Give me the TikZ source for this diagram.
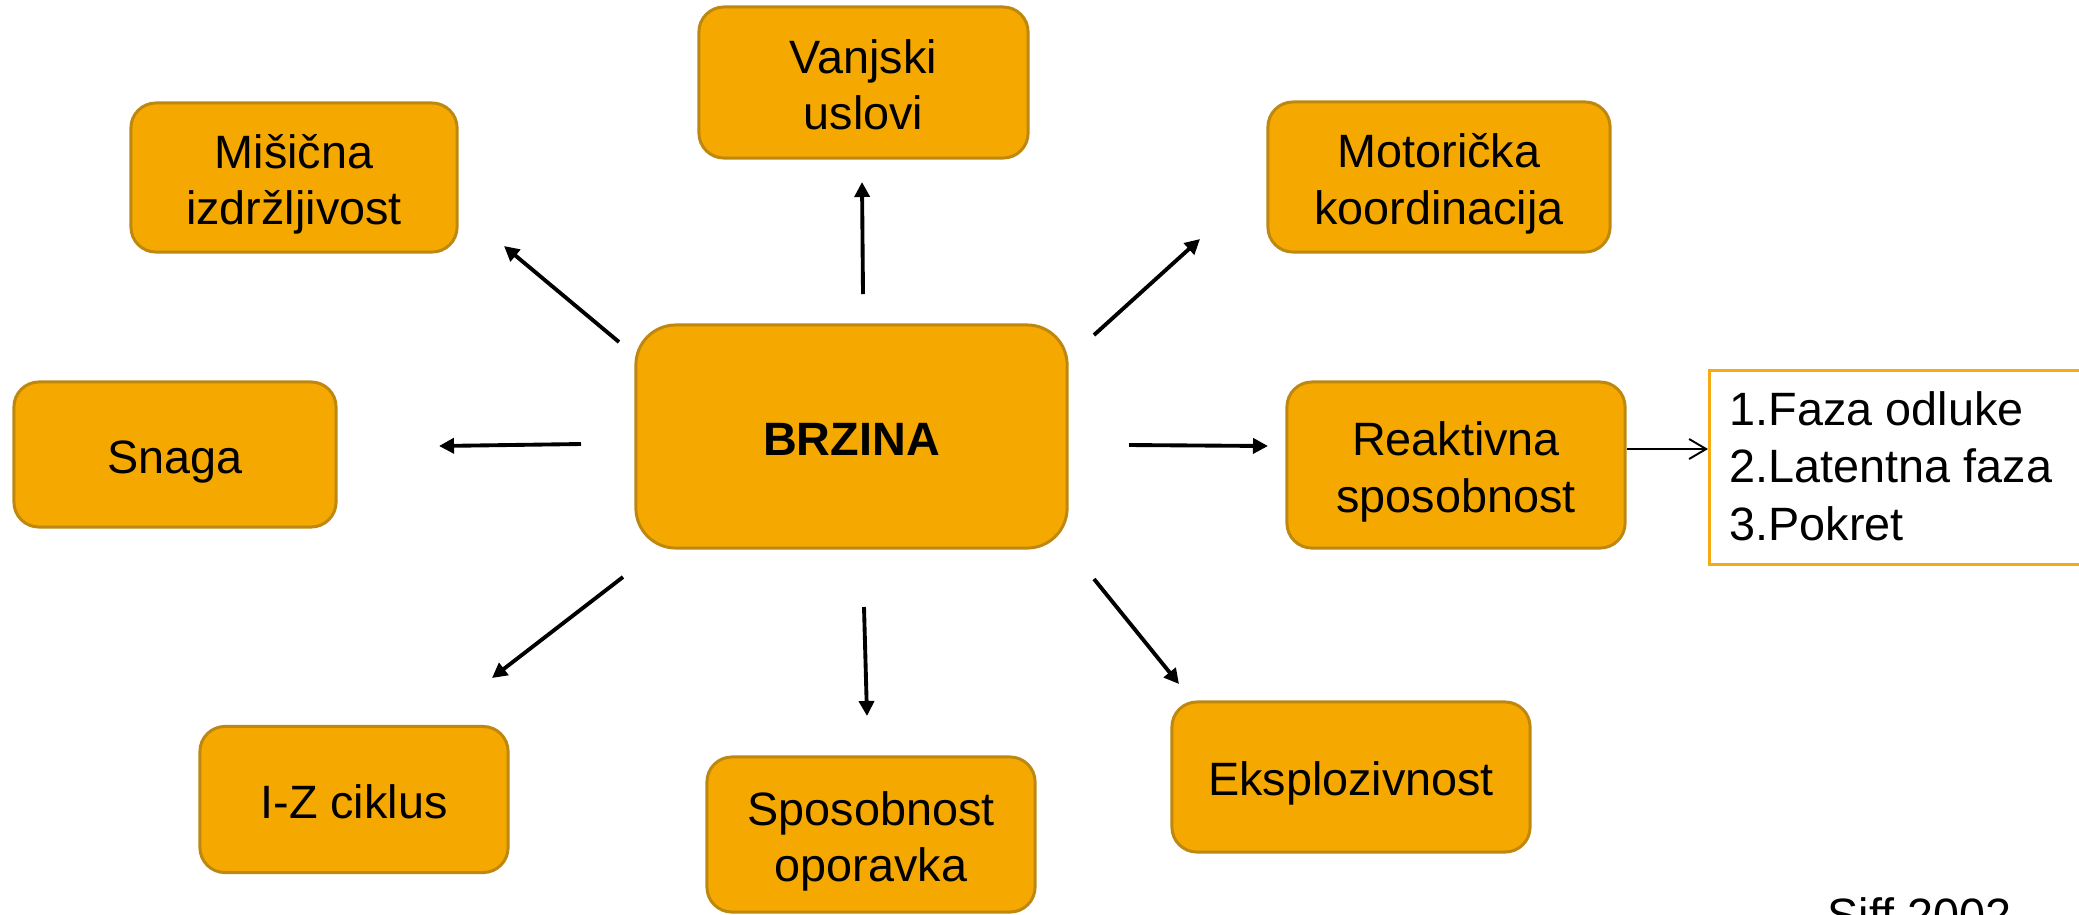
\documentclass[tikz,border=0pt]{standalone}
\usepackage{fontspec}
\setmainfont{Liberation Sans}
\usetikzlibrary{arrows.meta}
\definecolor{boxfill}{RGB}{244,168,0}
\definecolor{boxline}{RGB}{190,136,16}
\definecolor{listline}{RGB}{246,170,20}
\newcommand{\twol}[2]{\begin{tabular}[t]{@{}c@{}}#1\\#2\end{tabular}}
\tikzset{
  obox/.style={draw=boxline, line width=0.85pt, fill=boxfill, rounded corners=0.25cm,
    inner sep=0pt, font=\fontsize{13.3}{16.2}\selectfont},
  oneline/.style={text height=0.37cm, text depth=0pt},
  twoline/.style={text height=0pt, text depth=0.19cm},
  arr/.style={line width=1.1pt, -{Triangle[length=0.15cm,width=0.15cm]}},
  thinarr/.style={line width=0.55pt, -{Straight Barb[length=0.17cm,width=0.2cm]}},
  listtxt/.style={anchor=base west, inner sep=0pt, font=\fontsize{13.3}{15.6}\selectfont}
}
\begin{document}
\begin{tikzpicture}[x=0.01cm,y=-0.01cm]
\useasboundingbox (0,0) rectangle (2079,914);
% boxes
\node[obox, twoline, minimum width=3.29cm, minimum height=1.51cm] (vanj) at (863.5,82.5) {\twol{Vanjski}{uslovi}};
\node[obox, twoline, minimum width=3.26cm, minimum height=1.49cm] (mis) at (294,177.5) {\twol{Mišična}{izdržljivost}};
\node[obox, twoline, minimum width=3.42cm, minimum height=1.50cm] (mot) at (1439,177) {\twol{Motorička}{koordinacija}};
\node[obox, oneline, minimum width=3.22cm, minimum height=1.45cm] (snaga) at (175,454.5) {Snaga};
\node[obox, oneline, minimum width=4.31cm, minimum height=2.23cm, rounded corners=0.4cm, font=\fontsize{13.3}{16.2}\selectfont\bfseries] (brz) at (851.5,436.5) {BRZINA};
\node[obox, twoline, minimum width=3.38cm, minimum height=1.66cm] (reak) at (1456,465) {\twol{Reaktivna}{sposobnost}};
\node[obox, oneline, minimum width=3.08cm, minimum height=1.46cm] (iz) at (354,799.5) {I-Z ciklus};
\node[obox, twoline, minimum width=3.28cm, minimum height=1.55cm] (sop) at (871,834.5) {\twol{Sposobnost}{oporavka}};
\node[obox, oneline, minimum width=3.58cm, minimum height=1.50cm] (eks) at (1351,777) {Eksplozivnost};
% list box
\node[draw=listline, line width=0.8pt, fill=white, minimum width=4.0cm, minimum height=1.94cm, inner sep=0pt, anchor=north west] (list) at (1708,369) {};
\node[listtxt] (l1) at (1729,425) {1.Faza odluke};
\node[listtxt] (l2) at (1729,482) {2.Latentna faza};
\node[listtxt] (l3) at (1729,540) {3.Pokret};
% source
\node[listtxt] (siff) at (1827,931) {Siff 2002};
% arrow end points
\coordinate (a1s) at (863,294);  \coordinate (a1e) at (862,182);
\coordinate (a2s) at (619,342);  \coordinate (a2e) at (504,246);
\coordinate (a3s) at (1094,335); \coordinate (a3e) at (1200,239);
\coordinate (a4s) at (581,444);  \coordinate (a4e) at (439,446);
\coordinate (a5s) at (1129,445); \coordinate (a5e) at (1268,446);
\coordinate (a6s) at (623,577);  \coordinate (a6e) at (492,678);
\coordinate (a7s) at (864,607);  \coordinate (a7e) at (867,716);
\coordinate (a8s) at (1094,579); \coordinate (a8e) at (1179,684);
\draw[arr] (a1s) -- (a1e);
\draw[arr] (a2s) -- (a2e);
\draw[arr] (a3s) -- (a3e);
\draw[arr] (a4s) -- (a4e);
\draw[arr] (a5s) -- (a5e);
\draw[arr] (a6s) -- (a6e);
\draw[arr] (a7s) -- (a7e);
\draw[arr] (a8s) -- (a8e);
\draw[thinarr] (reak.east |- 0,449) -- (list.west |- 0,449);
\end{tikzpicture}
\end{document}
